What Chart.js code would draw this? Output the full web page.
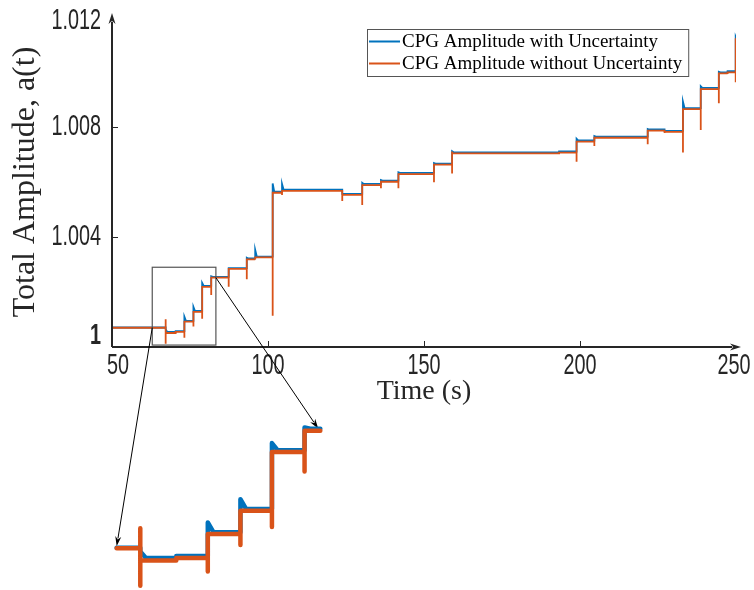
<!DOCTYPE html>
<html>
<head>
<meta charset="utf-8">
<script src="https://cdn.jsdelivr.net/npm/chart.js@4.4.1/dist/chart.umd.min.js"></script>
<style>
  html, body { margin: 0; padding: 0; background: #fff; }
  #wrap { position: relative; width: 754px; height: 590px; }
  #myChart { position: absolute; left: 0; top: 0; }
  #zoomChart { position: absolute; }
</style>
</head>
<body>
<div id="wrap">
  <canvas id="myChart" width="754" height="590"></canvas>
  <canvas id="zoomChart" width="240" height="190"></canvas>
</div>
<script>
// axis ticks
var xTickValues = [50, 100, 150, 200, 250];
var xTickLabels = ['50', '100', '150', '200', '250'];
var yTickValues = [1, 1.004, 1.008, 1.012];
var yTickLabels = ['1', '1.004', '1.008', '1.012'];

// switching instants (s)
var stepTimes = [67.2, 70.4, 73.2, 76.1, 78.9, 81.8, 87.4, 93.2, 95.9, 101.5, 104.5, 123.8, 130.2, 136.2,
                 141.8, 153.2, 159.0, 193.3, 198.9, 204.6, 221.7, 227.1, 233.0, 238.7, 244.5, 247.3, 249.9];

// without uncertainty (orange): start, level after each step, spike min / max at each step
var orangeStart = 1.0007;
var orangeStartLow = 1.00025;
var orangeLevels = [1.00051, 1.00055, 1.00092, 1.00128, 1.00219, 1.00252, 1.00284, 1.00319, 1.00326, 1.00561,
                    1.00568, 1.00553, 1.00589, 1.00601, 1.00629, 1.00663, 1.00704, 1.00707, 1.00747, 1.00761,
                    1.00787, 1.00782, 1.00865, 1.00938, 1.00995, 1.00999, 1.01121];
var orangeLow = [1.00012, 1.00052, 1.00034, 1.00075, 1.00103, 1.00189, 1.00219, 1.00246, 1.00318, 1.00114,
                 1.00553, 1.00531, 1.00516, 1.00577, 1.00577, 1.00599, 1.00631, 1.00704, 1.00674, 1.00731,
                 1.00737, 1.00778, 1.00707, 1.00789, 1.00886, 1.00993, 1.00963];
var orangeHigh = [1.00101, 1.00055, 1.00092, 1.00128, 1.00219, 1.00252, 1.00284, 1.00319, 1.00326, 1.00561,
                  1.00568, 1.00568, 1.00589, 1.00601, 1.00629, 1.00663, 1.00711, 1.00707, 1.00747, 1.00761,
                  1.00787, 1.00787, 1.00865, 1.00938, 1.00995, 1.00999, 1.01123];

// with uncertainty (blue): start, settled level and overshoot peak at each step
var blueStart = 1.00071;
var blueLevels = [1.00055, 1.00058, 1.00095, 1.00131, 1.00222, 1.00255, 1.00287, 1.00322, 1.00329, 1.00565,
                  1.00572, 1.00557, 1.00593, 1.00605, 1.00633, 1.00667, 1.00708, 1.00711, 1.00751, 1.00765,
                  1.00791, 1.00786, 1.00869, 1.00942, 1.00999, 1.01003, 1.01124];
var bluePeaks = [1.00065, 1.00058, 1.0011, 1.00146, 1.00233, 1.00257, 1.00287, 1.00325, 1.00353, 1.00595,
                 1.00593, 1.00557, 1.00597, 1.00607, 1.00635, 1.00669, 1.00712, 1.00711, 1.00757, 1.00767,
                 1.00793, 1.00786, 1.00892, 1.00948, 1.01001, 1.01003, 1.01127];
var blueSettle = 0.5;

// zoomed window
var zoomBoxT = [62.9, 83.3];
var zoomBoxA = [1.00007, 1.0029];
var insetT = [65.1, 83.2];

var blueColor = '#0072BD';
var orangeColor = '#D95319';
var axisColor = '#262626';
var insetLeft = 100, insetTop = 400;

function orangePoints() {
    var pts = [{x: 50, y: orangeStartLow}, {x: 50, y: orangeStart}];
    var prev = orangeStart;
    for (var i = 0; i < stepTimes.length; i++) {
        var t = stepTimes[i];
        pts.push({x: t, y: prev}, {x: t, y: orangeHigh[i]}, {x: t, y: orangeLow[i]}, {x: t, y: orangeLevels[i]});
        prev = orangeLevels[i];
    }
    pts.push({x: 250, y: prev});
    return pts;
}

function bluePoints() {
    var pts = [{x: 50, y: blueStart}];
    var prev = blueStart;
    for (var i = 0; i < stepTimes.length; i++) {
        var t = stepTimes[i];
        pts.push({x: t, y: prev}, {x: t, y: bluePeaks[i]}, {x: Math.min(t + blueSettle, 250), y: blueLevels[i]});
        prev = blueLevels[i];
    }
    pts.push({x: 250, y: prev});
    return pts;
}

// cut a step polyline down to the inset window
function windowed(pts, t0, t1) {
    var out = [];
    var last = pts[0].y;
    for (var i = 0; i < pts.length; i++) {
        var p = pts[i];
        if (p.x < t0) { last = p.y; continue; }
        if (p.x > t1) break;
        if (out.length === 0) out.push({x: t0, y: last});
        out.push(p);
        last = p.y;
    }
    out.push({x: t1, y: last});
    return out;
}

var orangeData = orangePoints();
var blueData = bluePoints();

// inset (magnified view)
var zoomCanvas = document.getElementById('zoomChart');
zoomCanvas.style.left = insetLeft + 'px';
zoomCanvas.style.top = insetTop + 'px';
var zoomChart = new Chart(zoomCanvas.getContext('2d'), {
    type: 'line',
    data: {
        datasets: [{
            label: 'CPG Amplitude without Uncertainty',
            data: windowed(orangeData, insetT[0], insetT[1]),
            borderColor: orangeColor,
            borderWidth: 4.5,
            order: 0
        }, {
            label: 'CPG Amplitude with Uncertainty',
            data: windowed(blueData, insetT[0], insetT[1]),
            borderColor: blueColor,
            borderWidth: 4.5,
            order: 1
        }]
    },
    options: {
        responsive: false,
        animation: false,
        layout: { padding: 0 },
        elements: { point: { radius: 0 }, line: { tension: 0, borderCapStyle: 'round', borderJoinStyle: 'round' } },
        plugins: { legend: { display: false }, tooltip: { enabled: false } },
        scales: {
            x: { type: 'linear', display: false, min: 63.62, max: 84.95 },
            y: { display: false, min: 1.000055, max: 1.002996 }
        }
    }
});

function arrow(ctx, x0, y0, x1, y1, len, half) {
    var a = Math.atan2(y1 - y0, x1 - x0);
    ctx.beginPath();
    ctx.moveTo(x0, y0);
    ctx.lineTo(x1 - Math.cos(a) * len * 0.8, y1 - Math.sin(a) * len * 0.8);
    ctx.stroke();
    ctx.beginPath();
    ctx.moveTo(x1, y1);
    ctx.lineTo(x1 - Math.cos(a) * len - Math.sin(a) * half, y1 - Math.sin(a) * len + Math.cos(a) * half);
    ctx.lineTo(x1 - Math.cos(a) * len * 0.7, y1 - Math.sin(a) * len * 0.7);
    ctx.lineTo(x1 - Math.cos(a) * len + Math.sin(a) * half, y1 - Math.sin(a) * len - Math.cos(a) * half);
    ctx.closePath();
    ctx.fill();
}

// narrow sans tick label, squeezed like the original export
function tickText(ctx, text, x, y, align, bold) {
    ctx.save();
    ctx.translate(x, y);
    ctx.scale(0.66, 1);
    ctx.font = (bold ? 'bold ' : '') + '30px "Liberation Sans", Arial, sans-serif';
    ctx.textAlign = align;
    ctx.textBaseline = 'middle';
    ctx.fillStyle = axisColor;
    ctx.fillText(text, 0, 0);
    ctx.restore();
}

var decorations = {
    id: 'decorations',
    afterDatasetsDraw: function(chart) {
        var ctx = chart.ctx;
        var xs = chart.scales.x, ys = chart.scales.y;
        var area = chart.chartArea;
        ctx.save();

        // axes with arrow heads
        ctx.strokeStyle = axisColor;
        ctx.fillStyle = axisColor;
        ctx.lineWidth = 2;
        arrow(ctx, area.left, area.bottom, area.left, area.top - 4, 11, 3.5);
        arrow(ctx, area.left, area.bottom, area.right + 5, area.bottom, 11, 3.5);

        // inward tick marks
        ctx.lineWidth = 1;
        ctx.beginPath();
        xTickValues.slice(1, -1).forEach(function(v) {
            var px = Math.round(xs.getPixelForValue(v)) + 0.5;
            ctx.moveTo(px, area.bottom);
            ctx.lineTo(px, area.bottom - 6);
        });
        yTickValues.slice(1, -1).forEach(function(v) {
            var py = Math.round(ys.getPixelForValue(v)) + 0.5;
            ctx.moveTo(area.left, py);
            ctx.lineTo(area.left + 6, py);
        });
        ctx.stroke();

        // tick labels
        xTickValues.forEach(function(v, i) {
            var px = Math.min(Math.max(xs.getPixelForValue(v), area.left + 6), area.right - 2);
            tickText(ctx, xTickLabels[i], px, area.bottom + 19, 'center', false);
        });
        yTickValues.forEach(function(v, i) {
            var py = Math.min(Math.max(ys.getPixelForValue(v), area.top + 4), area.bottom - 11);
            tickText(ctx, yTickLabels[i], area.left - 11, py, 'right', v === 1);
        });

        // zoom box
        var bx0 = xs.getPixelForValue(zoomBoxT[0]), bx1 = xs.getPixelForValue(zoomBoxT[1]);
        var by0 = ys.getPixelForValue(zoomBoxA[1]), by1 = ys.getPixelForValue(zoomBoxA[0]);
        ctx.strokeStyle = '#555555';
        ctx.lineWidth = 1.2;
        ctx.strokeRect(bx0, by0, bx1 - bx0, by1 - by0);

        // arrows to the inset
        var ix = zoomChart.scales.x, iy = zoomChart.scales.y;
        var startA = windowed(orangeData, zoomBoxT[0], zoomBoxT[0] + 0.01)[0].y;
        var endA = windowed(orangeData, zoomBoxT[1] - 0.01, zoomBoxT[1])[0].y;
        var inPts = windowed(orangeData, insetT[0], insetT[1]);
        var inEnd = inPts[inPts.length - 1];
        ctx.strokeStyle = '#000';
        ctx.fillStyle = '#000';
        ctx.lineWidth = 1;
        arrow(ctx, bx0, ys.getPixelForValue(startA),
              insetLeft + ix.getPixelForValue(inPts[0].x), insetTop + iy.getPixelForValue(inPts[0].y) - 2, 10, 3);
        arrow(ctx, bx1, ys.getPixelForValue(endA),
              insetLeft + ix.getPixelForValue(inEnd.x) - 2, insetTop + iy.getPixelForValue(inEnd.y) - 2, 10, 3);

        // legend
        var lx = 367, ly = 29;
        ctx.font = '19px "Liberation Serif", serif';
        var rows = [chart.data.datasets[1], chart.data.datasets[0]];
        var tw = Math.max(ctx.measureText(rows[0].label).width, ctx.measureText(rows[1].label).width);
        var bw = 35 + tw + 6, bh = 47;
        ctx.fillStyle = '#fff';
        ctx.fillRect(lx, ly, bw, bh);
        ctx.strokeStyle = '#555555';
        ctx.lineWidth = 1;
        ctx.strokeRect(lx + 0.5, ly + 0.5, bw, bh);
        ctx.textBaseline = 'middle';
        rows.forEach(function(ds, i) {
            var ry = ly + 12.5 + i * 22;
            ctx.strokeStyle = ds.borderColor;
            ctx.lineWidth = 2;
            ctx.beginPath();
            ctx.moveTo(lx + 2, ry);
            ctx.lineTo(lx + 33, ry);
            ctx.stroke();
            ctx.fillStyle = '#000';
            ctx.fillText(ds.label, lx + 35, ry + 1);
        });
        ctx.restore();
    }
};

var ampChart = document.getElementById('myChart').getContext('2d');
var myChart = new Chart(ampChart, {
    type: 'line',
    data: {
        datasets: [{
            label: 'CPG Amplitude without Uncertainty',
            data: orangeData,
            borderColor: orangeColor,
            borderWidth: 1.8,
            order: 0
        }, {
            label: 'CPG Amplitude with Uncertainty',
            data: blueData,
            borderColor: blueColor,
            borderWidth: 1.8,
            order: 1
        }]
    },
    options: {
        responsive: false,
        animation: false,
        layout: { padding: { left: 0, top: 17, right: 18, bottom: 0 } },
        elements: { point: { radius: 0 }, line: { tension: 0 } },
        plugins: { legend: { display: false }, tooltip: { enabled: false } },
        scales: {
            x: {
                type: 'linear',
                min: 50,
                max: 250,
                afterBuildTicks: function(s) { s.ticks = xTickValues.map(function(v) { return {value: v}; }); },
                afterFit: function(s) { s.height = 243; },
                grid: { display: false, drawTicks: false },
                border: { display: false },
                ticks: { display: false },
                title: {
                    display: true,
                    text: 'Time (s)',
                    color: axisColor,
                    font: { family: '"Liberation Serif", serif', size: 28 },
                    padding: { top: 0, bottom: 182 }
                }
            },
            y: {
                min: 1,
                max: 1.012,
                afterBuildTicks: function(s) { s.ticks = yTickValues.map(function(v) { return {value: v}; }); },
                afterFit: function(s) { s.width = 112; },
                grid: { display: false, drawTicks: false },
                border: { display: false },
                ticks: { display: false },
                title: {
                    display: true,
                    text: 'Total Amplitude, a(t)',
                    color: axisColor,
                    font: { family: '"Liberation Serif", serif', size: 32 },
                    padding: { top: 6, bottom: 0 }
                }
            }
        }
    },
    plugins: [decorations]
});
</script>
</body>
</html>
